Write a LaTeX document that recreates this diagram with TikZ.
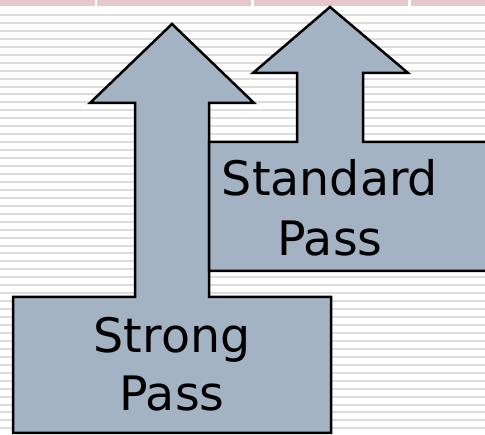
\documentclass[tikz,border=0pt]{standalone}
\usepackage{fontspec}
\setmainfont{DejaVu Sans}
\definecolor{passfill}{HTML}{A3B3C3}
\definecolor{rulegray}{HTML}{DCDCDC}
\definecolor{barpink}{HTML}{E6C8CC}
\begin{document}
\begin{tikzpicture}[x=1pt,y=-1pt,
  passshape/.style={draw=black,fill=passfill,line width=2.5pt,line join=miter},
  passlabel/.style={align=center,inner sep=0pt,font=\fontsize{47.5}{58}\selectfont}]
\useasboundingbox (0,0) rectangle (485,435);
\clip (0,0) rectangle (485,435);
\fill[white] (0,0) rectangle (485,435);
% ruled background
\foreach \k in {0,...,53}
  \fill[rulegray] (0,{14+7.95*\k}) rectangle (485,{16+7.95*\k});
% pink header bar
\fill[barpink] (0,0) rectangle (94.5,6);
\fill[barpink] (97,0) rectangle (251,6);
\fill[barpink] (254,0) rectangle (408,6);
\fill[barpink] (411,0) rectangle (485,6);
% strong pass arrow
\draw[passshape] (172,24) -- (254,103) -- (209,103) -- (209,297) -- (331,297)
  -- (331,433) -- (13,433) -- (13,297) -- (135,297) -- (135,103) -- (90,103) -- cycle;
% standard pass arrow
\draw[passshape] (330,7) -- (408,73) -- (363,73) -- (363,142) -- (490,142)
  -- (490,271) -- (209,271) -- (209,142) -- (297,142) -- (297,73) -- (253,73) -- cycle;
\node[passlabel] (strong) at (172,364) {Strong\\Pass};
\node[passlabel,font=\fontsize{47.5}{60}\selectfont] (standard) at (330,208) {Standard\\Pass};
\end{tikzpicture}
\end{document}
